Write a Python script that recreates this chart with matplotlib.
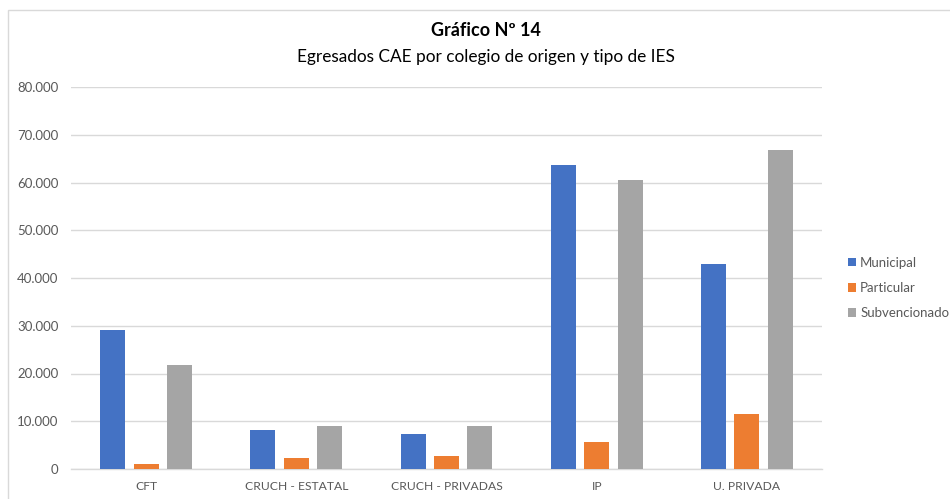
import numpy as np
import matplotlib
matplotlib.use('Agg')
from matplotlib import pyplot as plt
from matplotlib.patches import Rectangle
from matplotlib.ticker import FuncFormatter

categories = ['CFT', 'CRUCH - ESTATAL', 'CRUCH - PRIVADAS', 'IP', 'U. PRIVADA']
municipal = [29100, 8100, 7400, 63600, 43000]
particular = [1150, 2200, 2700, 5750, 11450]
subvencionado = [21700, 9100, 9100, 60600, 66900]

series_names = ['Municipal', 'Particular', 'Subvencionado']
series_colors = ['#4472C4', '#ED7D31', '#A5A5A5']

text_gray = '#595959'
grid_gray = '#D9D9D9'


def thousands(v, pos):
    return '{:,.0f}'.format(v).replace(',', '.')


def main():
    plt.rcParams['font.family'] = ['Lato', 'DejaVu Sans']

    fig = plt.figure(figsize=(9.5, 4.99), dpi=100)
    W, H = 950, 499

    # outer chart frame
    fig.patches.append(Rectangle((8 / W, -0.01), 1.2, (499 - 10) / H + 0.01,
                                 transform=fig.transFigure, fill=False,
                                 edgecolor=grid_gray, linewidth=1.0))

    ax = fig.add_axes([71 / W, 1 - 469 / H, (822 - 71) / W, (469 - 87) / H])

    x = np.arange(len(categories))
    width = 0.167
    pitch = 0.222
    for i, (vals, name, col) in enumerate(zip([municipal, particular, subvencionado],
                                               series_names, series_colors)):
        ax.bar(x + (i - 1) * pitch, vals, width, color=col, label=name, zorder=3)

    ax.set_xlim(-0.5, len(categories) - 0.5)
    ax.set_ylim(0, 80000)
    ax.set_yticks(np.arange(0, 80001, 10000))
    ax.yaxis.set_major_formatter(FuncFormatter(thousands))
    ax.set_xticks(x)
    ax.set_xticklabels(categories)

    ax.grid(axis='y', color=grid_gray, linewidth=1.0, zorder=0)
    for side in ['top', 'right', 'left']:
        ax.spines[side].set_visible(False)
    ax.spines['bottom'].set_color(grid_gray)
    ax.spines['bottom'].set_linewidth(1.0)
    ax.tick_params(axis='both', length=0, labelcolor=text_gray)
    ax.tick_params(axis='x', pad=9, labelsize=8.7)
    ax.tick_params(axis='y', pad=9, labelsize=9.5)

    fig.text(486 / W, 1 - 31 / H, 'Gráfico Nº 14', ha='center', va='center',
             fontsize=13, fontweight='bold', color='black')
    fig.text(486 / W, 1 - 57 / H, 'Egresados CAE por colegio de origen y tipo de IES',
             ha='center', va='center', fontsize=12.4, color='black')

    leg = ax.legend(loc='center left', bbox_to_anchor=(843 / W, 1 - 288 / H),
                    bbox_transform=fig.transFigure, frameon=False,
                    fontsize=9.5, handlelength=0.6, handleheight=0.6,
                    handletextpad=0.3, labelspacing=1.0, borderaxespad=0)
    for t in leg.get_texts():
        t.set_color(text_gray)

    fig.savefig('out.png', dpi=100)


if __name__ == '__main__':
    main()
